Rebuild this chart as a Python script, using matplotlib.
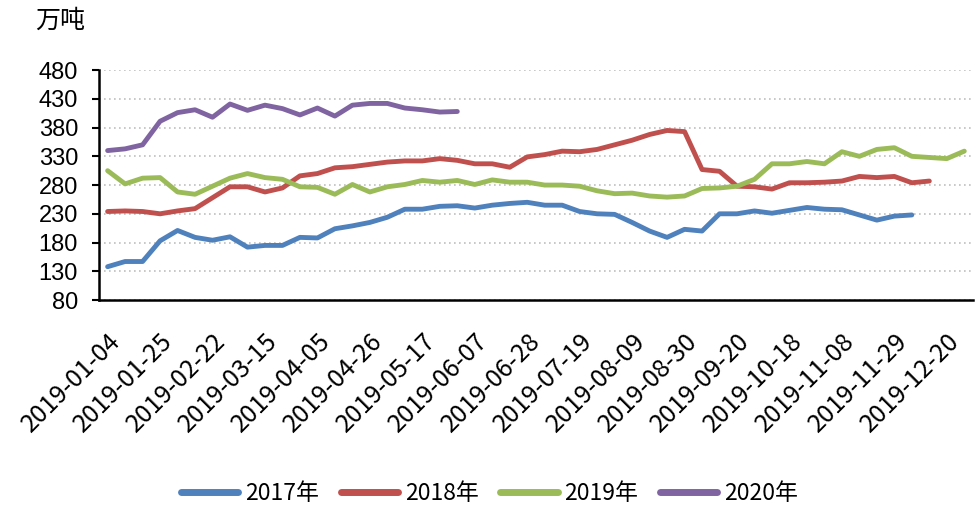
#!/usr/bin/env python
# -*- coding: utf-8 -*-

import matplotlib
matplotlib.use("Agg")
import matplotlib.pyplot as plt

# weekly dates on the category axis (spring festival / national day weeks missing)
dates = [
    "2019-01-04", "2019-01-11", "2019-01-18", "2019-01-25", "2019-02-01",
    "2019-02-15", "2019-02-22", "2019-03-01", "2019-03-08", "2019-03-15",
    "2019-03-22", "2019-03-29", "2019-04-05", "2019-04-12", "2019-04-19",
    "2019-04-26", "2019-05-03", "2019-05-10", "2019-05-17", "2019-05-24",
    "2019-05-31", "2019-06-07", "2019-06-14", "2019-06-21", "2019-06-28",
    "2019-07-05", "2019-07-12", "2019-07-19", "2019-07-26", "2019-08-02",
    "2019-08-09", "2019-08-16", "2019-08-23", "2019-08-30", "2019-09-06",
    "2019-09-13", "2019-09-20", "2019-09-27", "2019-10-11", "2019-10-18",
    "2019-10-25", "2019-11-01", "2019-11-08", "2019-11-15", "2019-11-22",
    "2019-11-29", "2019-12-06", "2019-12-13", "2019-12-20", "2019-12-27",
]

y2017 = [138, 147, 147, 183, 201, 189, 184, 190, 172, 175,
         175, 189, 188, 204, 209, 215, 224, 238, 238, 243,
         244, 240, 245, 248, 250, 245, 245, 234, 230, 229,
         215, 200, 189, 203, 200, 230, 230, 235, 231, 236,
         241, 238, 237, 228, 219, 226, 228]

y2018 = [234, 235, 234, 230, 235, 239, 258, 277, 277, 268,
         275, 296, 300, 310, 312, 316, 320, 322, 322, 326,
         323, 317, 317, 311, 329, 333, 339, 338, 342, 350,
         358, 368, 375, 373, 307, 304, 278, 277, 273, 284,
         284, 285, 287, 295, 293, 295, 284, 287]

y2019 = [305, 282, 292, 293, 268, 264, 278, 292, 300, 293,
         290, 277, 276, 264, 281, 268, 277, 281, 288, 285,
         288, 281, 289, 285, 285, 280, 280, 278, 270, 265,
         266, 261, 259, 261, 274, 275, 278, 290, 317, 317,
         321, 317, 338, 330, 342, 345, 330, 328, 326, 339]

y2020 = [340, 343, 350, 391, 406, 411, 398, 421, 410, 419,
         413, 402, 414, 400, 419, 422, 422, 414, 411, 407, 408]

series = [
    ("2017年", y2017, "#4F81BD"),
    ("2018年", y2018, "#C0504D"),
    ("2019年", y2019, "#9BBB59"),
    ("2020年", y2020, "#8064A2"),
]


def main():
    plt.rcParams['font.family'] = ['Noto Sans CJK SC', 'DejaVu Sans']

    fig = plt.figure(figsize=(9.79, 5.08), dpi=100)
    ax = fig.add_axes([0.101, 0.4094, 0.8929, 0.4526])

    for name, vals, color in series:
        ax.plot(range(len(vals)), vals, color=color, lw=3.5, label=name,
                solid_capstyle='round', solid_joinstyle='round')

    ax.set_xlim(-0.5, len(dates) - 0.5)
    ax.set_ylim(80, 480)
    ax.set_yticks(range(80, 481, 50))
    ax.grid(axis='y', linestyle=(0, (1, 2)), color='#BFBFBF', lw=1.2)
    ax.set_axisbelow(True)

    ticks = list(range(0, len(dates), 3))
    ax.set_xticks(ticks)
    ax.set_xticklabels([dates[i] for i in ticks], rotation=45, ha='right',
                       rotation_mode='anchor', fontsize=18)
    ax.tick_params(axis='x', length=0, pad=20)
    ax.tick_params(axis='y', length=5, width=1.5, pad=10, direction='out')
    for lab in ax.get_yticklabels():
        lab.set_fontfamily('Liberation Sans')
        lab.set_fontsize(17)

    for side in ['top', 'right']:
        ax.spines[side].set_visible(False)
    ax.spines['left'].set_linewidth(1.8)
    ax.spines['bottom'].set_linewidth(1.8)

    fig.text(0.036, 0.96, "万吨", fontsize=18, va='center')

    ax.legend(loc='center', bbox_to_anchor=(0.5, 0.028),
              bbox_transform=fig.transFigure, ncol=4, frameon=False,
              fontsize=16.5, handlelength=2.5, handletextpad=0.3,
              columnspacing=0.95, borderaxespad=0)
    for line in ax.get_legend().get_lines():
        line.set_linewidth(5)

    fig.savefig("out.png", dpi=100)


if __name__ == "__main__":
    main()
